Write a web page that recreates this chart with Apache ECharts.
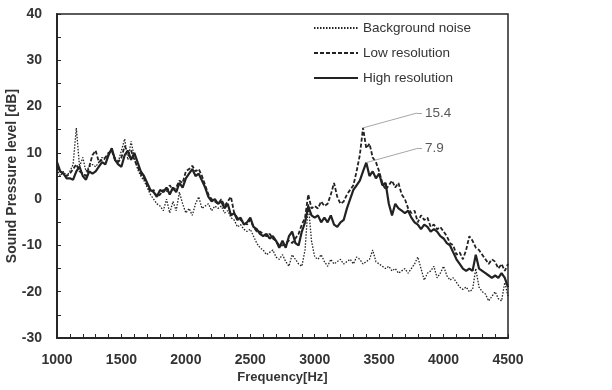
<!DOCTYPE html>
<html>
<head>
<meta charset="utf-8">
<script src="https://cdn.jsdelivr.net/npm/echarts@6/dist/echarts.min.js"></script>
<style>
  html, body { margin: 0; padding: 0; background: #fff; }
  #chart { width: 612px; height: 390px; }
</style>
</head>
<body>
<div id="chart"></div>
<script>
// frequency grid, 25 Hz steps
var freqs = [];
for (var f = 1000; f <= 4500; f += 25) freqs.push(f);

var background = [
  6.5, 5, 6, 5, 6, 7.5, 15.4, 7, 9, 6, 7, 7.5, 7, 8, 9, 8.5, 10, 10.5, 9, 8,
  10.5, 13, 8.5, 12.5, 9, 6.5, 5, 4, 2.5, 1, 0, -1, -1.5, -2.5, 0, -3, -0.5, -2.5, 1.5, -1,
  -3, -2, -3.5, -1, 0.5, -2, -1.5, -1, -2.5, -1.5, -2, -1.5, -3, -2.5, -4, -4.5, -6, -5.5, -6.5, -7,
  -6.5, -8, -9.5, -10.5, -11, -12, -11.5, -11, -12.5, -13, -12, -13.5, -14.5, -12, -13, -14, -14.5, -11, -1, -9,
  -12.5, -13, -12, -13.5, -14.5, -13, -14, -13.5, -13, -14, -13.5, -13, -14, -12.5, -13, -14, -13.5, -13, -11, -13.5,
  -14, -14.5, -15, -14.5, -15.5, -15, -16, -15.5, -15, -16, -15, -14, -12.5, -15, -17.5, -16, -15.5, -14.5, -17, -16,
  -14.5, -16.5, -17.5, -17, -18, -19, -19.5, -19, -20, -19.5, -15, -19, -20, -20.5, -22, -21, -20, -21.5, -22, -18,
  -21
];

var lowRes = [
  7, 6, 5.5, 5, 5.5, 6.5, 7.5, 6, 5.5, 5, 7, 9.5, 10.5, 8, 8.5, 9, 10, 10.5, 8.5, 8,
  9, 11.5, 10, 10.5, 8.5, 7, 5.5, 4.5, 3, 1.5, 2, 0.5, 1, 2, 1.5, 3, 2, 2.5, 4, 3.5,
  6, 6.5, 7.2, 6, 6.5, 5, 3, 1, 0, -0.5, -1, 0, -1.5, -0.5, 0.5, -3, -4, -4.5, -5, -5.5,
  -4.5, -6, -7, -7, -7.5, -8, -7.5, -8.5, -9, -10, -10, -9.5, -9, -9.5, -8.5, -7.5, -5.5, -4, 1, -2,
  -1.5, -2, -0.5, -1.5, -1, 1, 3.5, 0.5, -1, -0.5, 1, 2, 3, 6, 9.5, 15.4, 11, 12, 9, 8,
  6, 3.5, 2, 3, 4, 2.5, 3.5, 1, 0, -2, -3, -2.5, -5, -3.5, -4.5, -4, -6, -5.5, -6.5, -6,
  -7, -8, -9.5, -10, -12, -11.5, -13, -11, -8, -9, -10.5, -11, -12, -13, -14, -13, -13.5, -15, -14, -15.5,
  -14
];

var highRes = [
  8, 6, 5.5, 4.5, 4.5, 4.2, 6, 7, 5, 4.2, 6, 5.5, 6, 7, 8, 7.5, 9.5, 11, 8.5, 7.5,
  7, 9.5, 10.5, 8.5, 10, 8, 6, 5, 3.5, 2, 1.5, 0.5, 2, 1.5, 2.5, 1, 2.5, 1.5, 3.5, 2.5,
  4.5, 5.5, 6.5, 5, 5.5, 4, 2.5, 0.5, -0.5, 0, -1, -0.5, -2, -1, -3.5, -3, -4.5, -4, -5.5, -5,
  -4, -6, -6.5, -7.5, -8, -7.5, -8.5, -8, -9, -10.5, -9, -10.5, -8, -7, -9.5, -10, -7, -5, -1.5, -3.5,
  -4, -3.5, -5, -4, -5, -3.5, -5.5, -6, -5, -4.5, -2, 0, 2, 3, 4, 6, 7.9, 5, 6, 4.5,
  5.5, 3, 3.5, -1, -3.5, -1, -2, -2.5, -3, -2.5, -4, -5, -5.5, -6.5, -5.5, -6, -7, -6.5, -7, -8,
  -8.5, -9.5, -10, -11.5, -13, -14, -15, -15.5, -15, -15.5, -12, -15, -15.5, -16, -16.5, -17, -16.5, -17, -16, -17,
  -19
];

var xTicks = [1000, 4500, 500];
var yTicks = [-30, 40, 10];

function pairs(vals) {
  return freqs.map(function (f, i) { return [f, vals[i]]; });
}

// peak annotation: highest point between lo and hi Hz, leader line to a short horizontal stub
function peakNote(vals, lo, hi, bendF, bendV, endF) {
  var at = lo, max = -Infinity;
  freqs.forEach(function (f, i) {
    if (f >= lo && f <= hi && vals[i] > max) { max = vals[i]; at = f; }
  });
  return {
    silent: true,
    symbol: ['none', 'none'],
    lineStyle: { color: '#a6a6a6', width: 1, type: 'solid' },
    label: { show: false },
    emphasis: { disabled: true },
    data: [
      [{ coord: [at, max] }, { coord: [bendF, bendV] }],
      [{ coord: [bendF, bendV] }, {
        coord: [endF, bendV],
        label: { show: true, position: 'end', distance: 3, formatter: max.toFixed(1), color: '#595959', fontSize: 13.5, fontFamily: 'Liberation Sans' }
      }]
    ]
  };
}

var chart = echarts.init(document.getElementById('chart'));
var txt = '#333';
chart.setOption({
  animation: false,
  textStyle: { fontFamily: 'Liberation Sans' },
  grid: {
    left: 57, right: 104, top: 14, bottom: 52,
    outerBoundsMode: 'none', containLabel: false,
    show: true, borderColor: '#262626', borderWidth: 1.5
  },
  legend: {
    orient: 'vertical',
    left: 308,
    top: 16,
    itemWidth: 44,
    itemHeight: 12,
    itemGap: 11,
    itemStyle: { opacity: 0 },
    textStyle: { color: txt, fontSize: 13.5 },
    data: ['Background noise', 'Low resolution', 'High resolution']
  },
  xAxis: {
    type: 'value',
    min: xTicks[0], max: xTicks[1], interval: xTicks[2],
    name: 'Frequency[Hz]',
    nameLocation: 'middle',
    nameGap: 33,
    nameMoveOverlap: false,
    nameTextStyle: { color: txt, fontWeight: 'bold', fontSize: 13 },
    axisLine: { onZero: false, lineStyle: { color: '#262626', width: 2 } },
    axisTick: { inside: true, length: 4, lineStyle: { color: '#262626', width: 1 } },
    minorTick: { show: true, splitNumber: 5, length: 4, lineStyle: { color: '#262626', width: 1 } },
    axisLabel: { color: txt, fontWeight: 'bold', fontSize: 14, margin: 15, formatter: function (v) { return String(v); } },
    splitLine: { show: false }
  },
  yAxis: {
    type: 'value',
    min: yTicks[0], max: yTicks[1], interval: yTicks[2],
    name: 'Sound Pressure level [dB]',
    nameLocation: 'middle',
    nameGap: 45,
    nameMoveOverlap: false,
    nameTextStyle: { color: txt, fontWeight: 'bold', fontSize: 14, verticalAlign: 'middle' },
    axisLine: { onZero: false, lineStyle: { color: '#262626', width: 2 } },
    axisTick: { inside: true, length: 4, lineStyle: { color: '#262626', width: 1 } },
    minorTick: { show: true, splitNumber: 2, length: 4, lineStyle: { color: '#262626', width: 1 } },
    axisLabel: { color: txt, fontWeight: 'bold', fontSize: 14, margin: 15 },
    splitLine: { show: false }
  },
  series: [
    {
      name: 'Background noise', type: 'line', symbol: 'none', data: pairs(background),
      lineStyle: { color: '#222', width: 1.3, type: [1.5, 1.5] }, itemStyle: { color: '#222' }
    },
    {
      name: 'Low resolution', type: 'line', symbol: 'none', data: pairs(lowRes),
      lineStyle: { color: '#222', width: 1.8, type: [4, 2] }, itemStyle: { color: '#222' },
      markLine: peakNote(lowRes, 3200, 3600, 3793, 18.6, 3832)
    },
    {
      name: 'High resolution', type: 'line', symbol: 'none', data: pairs(highRes),
      lineStyle: { color: '#222', width: 2.2 }, itemStyle: { color: '#222' },
      markLine: peakNote(highRes, 3200, 3600, 3803, 11, 3832)
    }
  ]
});
</script>
</body>
</html>
